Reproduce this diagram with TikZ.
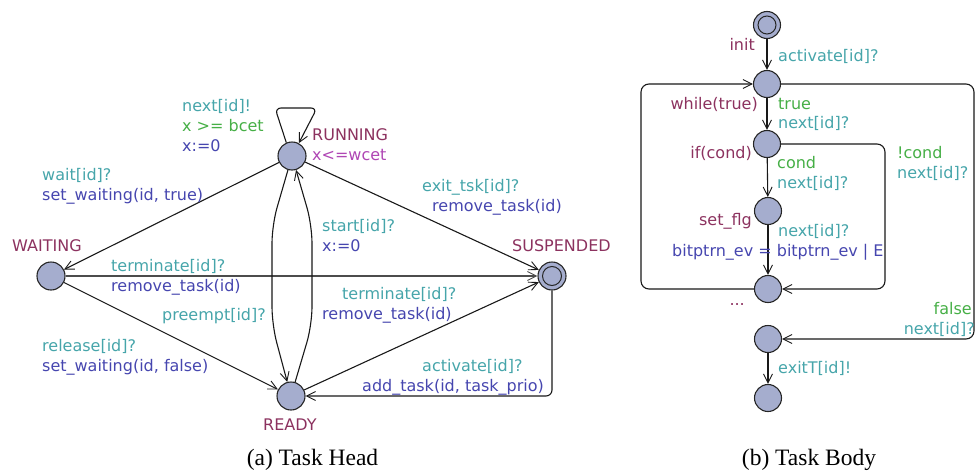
\documentclass[tikz,border=0pt]{standalone}
\usepackage{fontspec}
\setmainfont{DejaVu Sans}
\newfontfamily\capfont{Liberation Serif}
\usetikzlibrary{arrows.meta}
\definecolor{locfill}{RGB}{165,173,206}
\definecolor{namec}{RGB}{140,50,95}
\definecolor{syncc}{RGB}{70,165,170}
\definecolor{updc}{RGB}{70,70,175}
\definecolor{guardc}{RGB}{70,175,70}
\definecolor{invc}{RGB}{175,70,180}
\tikzset{
  loc/.style={circle, draw=black!85, fill=locfill, line width=1.1pt, minimum size=28pt, inner sep=0pt},
  edge/.style={draw=black!90, line width=1.1pt, -{Straight Barb[length=9pt,width=9pt,line width=0.9pt]}},
  lbl/.style={anchor=base west, inner sep=0pt, font=\fontsize{16}{20}\selectfont},
  lble/.style={anchor=base east, inner sep=0pt, font=\fontsize{16}{20}\selectfont},
  nm/.style={text=namec}, sy/.style={text=syncc}, up/.style={text=updc},
  gd/.style={text=guardc}, iv/.style={text=invc},
  captxt/.style={font=\capfont\fontsize{23.5}{26}\selectfont, inner sep=0pt}
}
\begin{document}
\begin{tikzpicture}[x=1pt,y=-1pt]
\useasboundingbox (0,0) rectangle (977,474);
% ---------------- Task Head ----------------
\node[loc] (run) at (292,156) {};
\node[loc] (wait) at (51,276) {};
\node[loc] (susp) at (552,276) {};
\node[circle, draw=black!85, line width=1pt, minimum size=19pt, inner sep=0pt] (suspin) at (susp) {};
\node[loc] (ready) at (291,396) {};

\coordinate (la) at (275,108);
\coordinate (lb) at (317,108);
\draw[edge, rounded corners=6pt] (run.113) -- (la) -- (lb) -- (run.62);
\draw[edge] (run) -- (wait);
\draw[edge] (run) -- (susp);
\draw[edge, draw=black!70, line width=1.6pt] (wait) -- (susp);
\draw[edge] (wait) -- (ready);
\draw[edge] (ready) -- (susp);
\coordinate (sc) at (552,396);
\draw[edge, rounded corners=6pt] (susp) -- (sc) -- (ready);
\coordinate (p1) at (272,225);
\coordinate (p2) at (272,325);
\draw[edge, rounded corners=18pt] (run) -- (p1) -- (p2) -- (ready);
\coordinate (s1) at (312,325);
\coordinate (s2) at (312,225);
\draw[edge, rounded corners=18pt] (ready) -- (s1) -- (s2) -- (run);

\node[lbl,nm] (tRun) at (312,140) {RUNNING};
\node[lbl,iv] (tInv) at (312,160) {x<=wcet};
\node[lbl,nm] (tWait) at (12,251) {WAITING};
\node[lbl,nm] (tSusp) at (512,251) {SUSPENDED};
\node[lbl,nm] (tReady) at (263,430) {READY};
\node[lbl,sy] (a1) at (182,111) {next[id]!};
\node[lbl,gd] (a2) at (182,131) {x >= bcet};
\node[lbl,up] (a3) at (182,151) {x:=0};
\node[lbl,sy] (b1) at (42,180) {wait[id]?};
\node[lbl,up] (b2) at (42,200) {set\_waiting(id, true)};
\node[lbl,sy] (c1) at (111,271) {terminate[id]?};
\node[lbl,up] (c2) at (111,291) {remove\_task(id)};
\node[lbl,sy] (d1) at (162,320) {preempt[id]?};
\node[lbl,sy] (e1) at (42,351) {release[id]?};
\node[lbl,up] (e2) at (42,371) {set\_waiting(id, false)};
\node[lbl,sy] (f1) at (422,191) {exit\_tsk[id]?};
\node[lbl,up] (f2) at (432,211) {remove\_task(id)};
\node[lbl,sy] (g1) at (322,231) {start[id]?};
\node[lbl,up] (g2) at (322,251) {x:=0};
\node[lbl,sy] (h1) at (342,299) {terminate[id]?};
\node[lbl,up] (h2) at (322,319) {remove\_task(id)};
\node[lbl,sy] (i1) at (422,371) {activate[id]?};
\node[lbl,up] (i2) at (362,391) {add\_task(id, task\_prio)};
\node[captxt] (capa) at (312.5,460) {(a) Task Head};

% ---------------- Task Body ----------------
\node[loc, minimum size=27pt] (n1) at (767,25) {};
\node[circle, draw=black!85, line width=1pt, minimum size=18pt, inner sep=0pt] (n1in) at (n1) {};
\node[loc, minimum size=27pt] (n2) at (767,84) {};
\node[loc, minimum size=27pt] (n3) at (767,144) {};
\node[loc, minimum size=27pt] (n4) at (768,211) {};
\node[loc, minimum size=27pt] (n5) at (768,289) {};
\node[loc, minimum size=27pt] (n6) at (768,339) {};
\node[loc, minimum size=27pt] (n7) at (768,398) {};

\draw[edge] (n1) -- (n2);
\draw[edge] (n2) -- (n3);
\draw[edge] (n3) -- (n4);
\draw[edge] (n4) -- (n5);
\draw[edge] (n6) -- (n7);
\coordinate (w1) at (641,289);
\coordinate (w2) at (641,84);
\draw[edge, rounded corners=8pt] (n5) -- (w1) -- (w2) -- (n2);
\coordinate (q1) at (885,144);
\coordinate (q2) at (885,289);
\draw[edge, rounded corners=8pt] (n3) -- (q1) -- (q2) -- (n5);
\coordinate (r1) at (974,84);
\coordinate (r2) at (974,339);
\draw[edge, rounded corners=8pt] (n2) -- (r1) -- (r2) -- (n6);

\node[lble,nm] (uInit) at (755,50) {init};
\node[lbl,sy] (u1) at (778,61) {activate[id]?};
\node[lble,nm] (uWhile) at (758,109) {while(true)};
\node[lbl,gd] (v1) at (778,109) {true};
\node[lbl,sy] (v2) at (778,128) {next[id]?};
\node[lble,nm] (uIf) at (752,158) {if(cond)};
\node[lbl,gd] (x1) at (777,168) {cond};
\node[lbl,sy] (x2) at (777,188) {next[id]?};
\node[lbl,gd] (y1) at (897,158) {!cond};
\node[lbl,sy] (y2) at (897,178) {next[id]?};
\node[lble,nm] (uSet) at (752,225) {set\_flg};
\node[lbl,sy] (z1) at (778,236) {next[id]?};
\node[lbl,up] (z2) at (672,256) {bitptrn\_ev = bitptrn\_ev | E};
\node[lble,nm] (uDots) at (745,305) {...};
\node[lble,gd] (k1) at (972,314) {false};
\node[lble,sy] (k2) at (975,334) {next[id]?};
\node[lbl,sy] (m1) at (778,373) {exitT[id]!};
\node[captxt] (capb) at (809,460) {(b) Task Body};
\end{tikzpicture}
\end{document}
